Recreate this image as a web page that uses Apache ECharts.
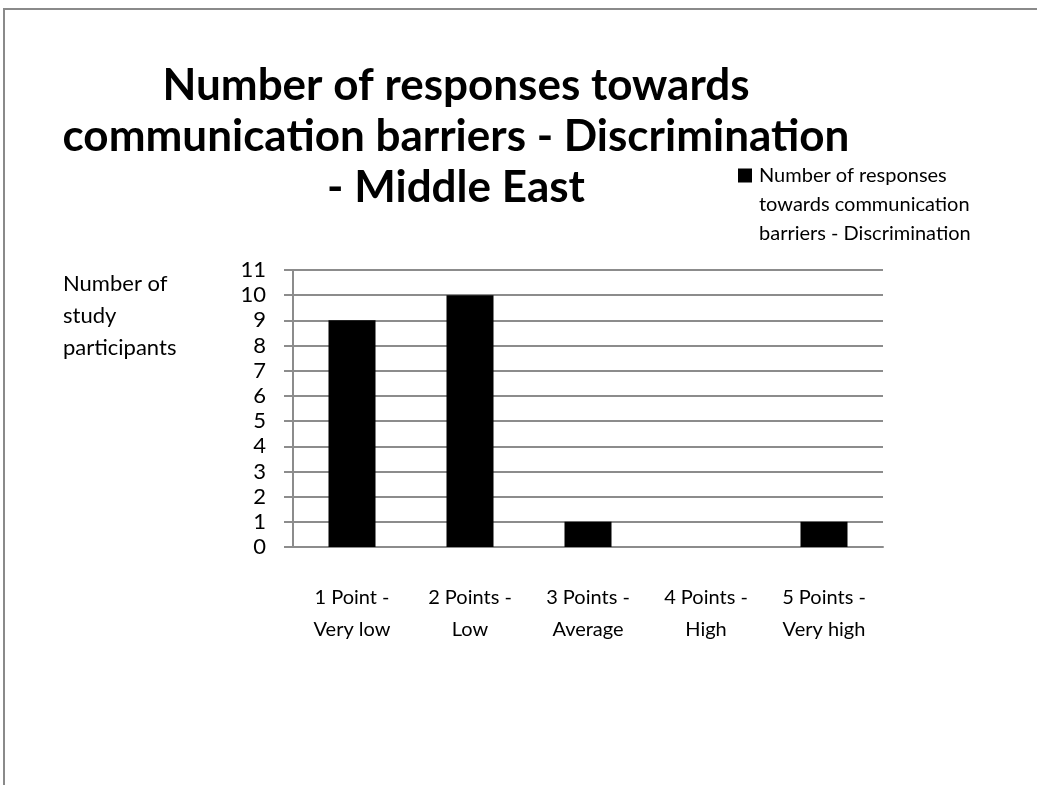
<!DOCTYPE html>
<html>
<head>
<meta charset="utf-8">
<style>
  html, body { margin: 0; padding: 0; background: #fff; }
  #chart { width: 1037px; height: 785px; }
</style>
<script src="https://cdn.jsdelivr.net/npm/echarts@6/dist/echarts.min.js"></script>
</head>
<body>
<div id="chart"></div>
<script>
// Rating categories along the horizontal axis
const categories = [
  '1 Point -\nVery low',
  '2 Points -\nLow',
  '3 Points -\nAverage',
  '4 Points -\nHigh',
  '5 Points -\nVery high'
];
// Number of study participants per rating
const responses = [9, 10, 1, 0, 1];
// Vertical axis range
const yMin = 0;
const yMax = 11;
const yStep = 1;

const seriesName = 'Number of responses\ntowards communication\nbarriers - Discrimination';
const titleText = 'Number of responses towards\ncommunication barriers - Discrimination\n- Middle East';
const yAxisTitle = 'Number of\nstudy\nparticipants';

const FONT = 'Lato, "Open Sans", sans-serif';
const GRID_COLOR = '#8c8c8c';

// Legend marker: a 14px square at the top of a 72px-tall icon box, so the
// square sits beside the first line of the three-line legend text.
const LEGEND_ICON = 'path://M0,0L14,0L14,14L0,14ZM0,72L0.01,72L0,72Z';

const chart = echarts.init(document.getElementById('chart'));
chart.setOption({
  animation: false,
  backgroundColor: '#fff',
  title: {
    text: titleText,
    left: 451,
    top: 55,
    textAlign: 'center',
    textStyle: {
      fontFamily: FONT,
      fontWeight: 'bold',
      fontSize: 44,
      lineHeight: 51,
      color: '#000'
    }
  },
  legend: {
    left: 733,
    top: 156,
    itemWidth: 14,
    itemHeight: 72,
    itemGap: 8,
    icon: LEGEND_ICON,
    data: [seriesName],
    textStyle: {
      fontFamily: FONT,
      fontSize: 20,
      lineHeight: 29,
      padding: [0, 0, 0, 2],
      color: '#000'
    }
  },
  graphic: [
    {
      type: 'rect',
      shape: { x: 4, y: 9, width: 1060, height: 800 },
      style: { fill: 'none', stroke: '#8a8a8a', lineWidth: 2 },
      silent: true
    },
    {
      type: 'text',
      left: 63,
      top: 268,
      style: {
        text: yAxisTitle,
        fontFamily: FONT,
        fontSize: 22,
        lineHeight: 32,
        fill: '#000'
      },
      silent: true
    }
  ],
  grid: {
    left: 293,
    right: 154,
    top: 270,
    bottom: 238,
    containLabel: false
  },
  xAxis: {
    type: 'category',
    data: categories,
    boundaryGap: true,
    axisLine: { lineStyle: { color: GRID_COLOR, width: 2 } },
    axisTick: {
      alignWithLabel: false,
      length: 10,
      lineStyle: { color: GRID_COLOR, width: 2 }
    },
    axisLabel: {
      margin: 35,
      fontFamily: FONT,
      fontSize: 20,
      lineHeight: 32,
      color: '#000',
      interval: 0
    }
  },
  yAxis: {
    type: 'value',
    min: yMin,
    max: yMax,
    interval: yStep,
    axisLine: { show: true, lineStyle: { color: GRID_COLOR, width: 2 } },
    axisTick: { show: true, length: 9, lineStyle: { color: GRID_COLOR, width: 2 } },
    splitLine: { lineStyle: { color: GRID_COLOR, width: 2 } },
    axisLabel: {
      margin: 27,
      fontFamily: FONT,
      fontSize: 22,
      color: '#000'
    }
  },
  series: [
    {
      name: seriesName,
      type: 'bar',
      data: responses,
      barWidth: 47,
      itemStyle: { color: '#000' }
    }
  ]
});
</script>
</body>
</html>
